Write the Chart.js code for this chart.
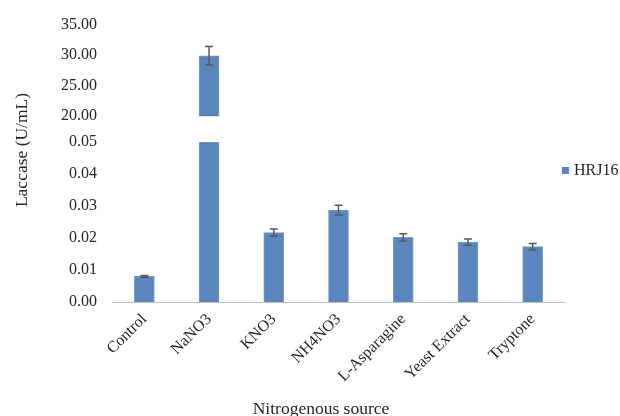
<!DOCTYPE html>
<html>
<head>
<meta charset="utf-8">
<script src="https://cdn.jsdelivr.net/npm/chart.js@4"></script>
<style>
  html, body { margin: 0; padding: 0; background: #ffffff; }
  #wrap { width: 620px; height: 416px; }
</style>
</head>
<body>
<div id="wrap"><canvas id="c" width="620" height="416"></canvas></div>
<script>
const categories = ['Control', 'NaNO3', 'KNO3', 'NH4NO3', 'L-Asparagine', 'Yeast Extract', 'Tryptone'];
const values = [0.0080, 29.9, 0.0217, 0.0287, 0.0202, 0.0187, 0.0173];
const errors = [0.0003, 1.5, 0.0011, 0.0015, 0.0011, 0.0010, 0.0010];
const seriesName = 'HRJ16';
const lowTicks = [0.00, 0.01, 0.02, 0.03, 0.04, 0.05];
const highTicks = [20, 25, 30, 35];
const xTitle = 'Nitrogenous source';
const yTitle = 'Laccase (U/mL)';

const lowMax = lowTicks[lowTicks.length - 1];
const highMin = highTicks[0];
const lowPart = values.map(v => Math.min(v, lowMax));
const highPart = values.map(v => (v > highMin ? v : null));

const FONT = "'Liberation Serif', 'Times New Roman', serif";
const BAR = '#5b86bd';
const BAR_EDGE = '#7b9dcb';

function fixW(w) { return function (s) { s.width = w; }; }

const overlay = {
  id: 'overlay',
  afterDatasetsDraw(chart) {
    const ctx = chart.ctx;
    const meta = chart.getDatasetMeta(0);
    const lo = chart.scales.yLow, hi = chart.scales.yHigh;
    ctx.save();
    ctx.strokeStyle = '#595959';
    ctx.lineWidth = 1.5;
    values.forEach((v, i) => {
      const s = v > highMin ? hi : lo;
      const x = meta.data[i].x;
      const yT = s.getPixelForValue(v + errors[i]);
      const yB = s.getPixelForValue(v - errors[i]);
      ctx.beginPath();
      ctx.moveTo(x, yT); ctx.lineTo(x, yB);
      ctx.moveTo(x - 4, yT); ctx.lineTo(x + 4, yT);
      ctx.moveTo(x - 4, yB); ctx.lineTo(x + 4, yB);
      ctx.stroke();
    });
    ctx.restore();
  },
  afterDraw(chart) {
    const ctx = chart.ctx;
    ctx.save();
    ctx.fillStyle = '#262626';
    ctx.font = '17.5px ' + FONT;
    ctx.textAlign = 'center';
    ctx.textBaseline = 'middle';
    ctx.fillText(xTitle, 321, 409);
    ctx.translate(22, 150);
    ctx.rotate(-Math.PI / 2);
    ctx.fillText(yTitle, 0, 0);
    ctx.restore();
    // legend
    ctx.save();
    ctx.fillStyle = BAR;
    ctx.fillRect(562, 167, 7, 7);
    ctx.fillStyle = '#262626';
    ctx.font = '16px ' + FONT;
    ctx.textAlign = 'left';
    ctx.textBaseline = 'middle';
    ctx.fillText(seriesName, 574, 171);
    ctx.restore();
  }
};

new Chart(document.getElementById('c'), {
  type: 'bar',
  data: {
    labels: categories,
    datasets: [
      { label: seriesName, data: lowPart, yAxisID: 'yLow', grouped: false,
        backgroundColor: BAR, borderColor: BAR_EDGE, borderWidth: 1, barThickness: 20 },
      { label: seriesName + ' (upper)', data: highPart, yAxisID: 'yHigh', grouped: false,
        backgroundColor: BAR, borderColor: BAR_EDGE, borderWidth: 1, barThickness: 20 }
    ]
  },
  options: {
    responsive: false,
    animation: false,
    events: [],
    layout: { padding: { left: 52, right: 55, top: 22, bottom: 0 } },
    plugins: { legend: { display: false }, tooltip: { enabled: false } },
    scales: {
      x: {
        grid: { display: false, drawTicks: false },
        border: { display: true, color: '#bfbfbf', width: 1 },
        ticks: { minRotation: 45, maxRotation: 45, padding: 8, color: '#262626', autoSkip: false,
                 font: { family: FONT, size: 16 } },
        afterFit: function (s) { s.height = 114; }
      },
      yLow: {
        type: 'linear', position: 'left', stack: 'ystack', stackWeight: 161.5,
        min: 0, max: lowMax,
        afterBuildTicks: function (s) { s.ticks = lowTicks.map(v => ({ value: v })); },
        ticks: { padding: 15, color: '#262626', autoSkip: false, font: { family: FONT, size: 16 },
                 callback: v => Number(v).toFixed(2) },
        grid: { display: false, drawTicks: false },
        border: { display: false },
        afterFit: fixW(60)
      },
      yGap: {
        type: 'linear', position: 'left', stack: 'ystack', stackWeight: 26,
        min: 0, max: 1,
        ticks: { display: false },
        grid: { display: false, drawTicks: false },
        border: { display: false },
        afterFit: fixW(60)
      },
      yHigh: {
        type: 'linear', position: 'left', stack: 'ystack', stackWeight: 92.5,
        min: highMin, max: highTicks[highTicks.length - 1],
        afterBuildTicks: function (s) { s.ticks = highTicks.map(v => ({ value: v })); },
        ticks: { padding: 15, color: '#262626', autoSkip: false, font: { family: FONT, size: 16 },
                 callback: v => Number(v).toFixed(2) },
        grid: { display: false, drawTicks: false },
        border: { display: false },
        afterFit: fixW(60)
      }
    }
  },
  plugins: [overlay]
});
</script>
</body>
</html>
